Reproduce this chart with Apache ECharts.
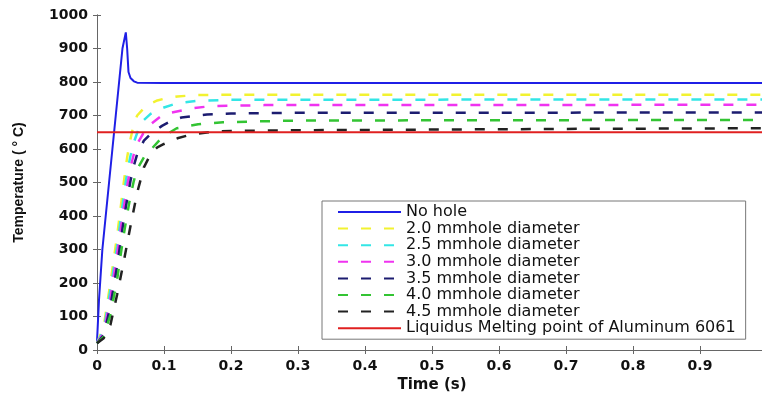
<!DOCTYPE html>
<html><head><meta charset="utf-8">
<script src="https://cdn.jsdelivr.net/npm/echarts@6/dist/echarts.min.js"></script>
<style>html,body{margin:0;padding:0;background:#fff}#c{width:762px;height:396px}</style>
</head><body><div id="c"></div>
<script>
// Series names
const seriesNames = ['No hole','2.0 mmhole diameter','2.5 mmhole diameter','3.0 mmhole diameter','3.5 mmhole diameter','4.0 mmhole diameter','4.5 mmhole diameter','Liquidus Melting point of Aluminum 6061'];
// No hole
const tNoHole = [0,0.003,0.008,0.018,0.023,0.028,0.033,0.038,0.043,0.045,0.047,0.05,0.055,0.06,0.1,0.5,1.0];
const vNoHole = [25,150,300,500,600,700,800,900,948,900,830,812,802,798,797,797,797];
// 2.0 mm
const t20 = [0,0.01,0.02,0.03,0.035,0.04,0.045,0.05,0.055,0.06,0.07,0.08,0.09,0.1,0.12,0.15,0.2,1.0];
const v20 = [20,70,200,340,420,500,575,630,675,700,722,736,745,750,757,761,762,762];
// 2.5 mm
const t25 = [0,0.01,0.02,0.03,0.035,0.04,0.045,0.05,0.055,0.06,0.067,0.08,0.09,0.1,0.12,0.15,0.2,1.0];
const v25 = [20,60,180,310,385,460,530,580,620,648,681,705,716,724,737,744,747,748];
// 3.0 mm
const t30 = [0,0.01,0.02,0.03,0.035,0.04,0.045,0.05,0.055,0.06,0.07,0.082,0.095,0.11,0.14,0.17,0.25,1.0];
const v30 = [20,52,155,285,355,425,490,545,585,615,650,677,697,708,721,728,731,732];
// 3.5 mm
const t35 = [0,0.01,0.02,0.03,0.035,0.04,0.045,0.05,0.055,0.06,0.07,0.08,0.097,0.11,0.126,0.164,0.2,0.3,1.0];
const v35 = [20,45,130,250,320,390,450,505,550,585,625,645,669,683,694,703,706,708,709];
// 4.0 mm
const t40 = [0,0.01,0.02,0.03,0.035,0.04,0.045,0.05,0.055,0.06,0.07,0.079,0.094,0.105,0.119,0.151,0.188,0.3,1.0];
const v40 = [20,40,105,210,280,345,405,460,505,540,575,595,628,645,662,674,680,685,687];
// 4.5 mm
const t45 = [0,0.01,0.02,0.03,0.04,0.05,0.055,0.06,0.07,0.08,0.09,0.1,0.12,0.14,0.17,0.2,0.3,0.5,0.7,1.0];
const v45 = [20,35,75,165,265,370,420,470,545,585,605,615,632,643,651,654,656,658,660,662];
// Liquidus line
const tLiq = [0,1.0];
const vLiq = [650,650];
// Axis ticks
const xTicks = [0,0.1,0.2,0.3,0.4,0.5,0.6,0.7,0.8,0.9,1];
const yTicks = [0,100,200,300,400,500,600,700,800,900,1000];

const colors = ['#1f1fe6','#f2f230','#33e6e6','#f033f0','#1c1c70','#33c433','#222222','#e02020'];
const times = [tNoHole,t20,t25,t30,t35,t40,t45,tLiq];
const vals = [vNoHole,v20,v25,v30,v35,v40,v45,vLiq];
const dashed = [false,true,true,true,true,true,true,false];

const zip = (a,b)=>a.map((x,i)=>[x,b[i]]);
const series = seriesNames.map((n,i)=>({
  name:n, type:'line', data:zip(times[i],vals[i]), symbol:'none', smooth:false,
  lineStyle:{color:colors[i], width: i===7?1.8:(dashed[i]?2.5:2), type: dashed[i]?[10,13]:'solid'},
  itemStyle:{color:colors[i]}, z: i===7?3:2, animation:false
}));
const axisLine = {lineStyle:{color:'#666',width:1}};
const chart = echarts.init(document.getElementById('c'));
chart.setOption({
  animation:false,
  backgroundColor:'#fff',
  grid:{left:97, top:15, width:670, height:335, outerBoundsMode:'none', containLabel:false},
  xAxis:[{
    type:'value', min:0, max:1, interval:0.1,
    axisLine:axisLine, axisTick:{inside:true,length:4,lineStyle:{color:'#666'}},
    splitLine:{show:false},
    axisLabel:{color:'#111', fontFamily:'DejaVu Sans', fontWeight:'bold', fontSize:14, margin:9, showMaxLabel:true,
      formatter:v=>{const k=xTicks.findIndex(x=>Math.abs(x-v)<1e-9); return k<0?'':String(xTicks[k]);}},
    name:'Time (s)', nameLocation:'middle', nameGap:26,
    nameTextStyle:{color:'#111', fontFamily:'DejaVu Sans', fontWeight:'bold', fontSize:15}
  },{
    type:'value', position:'top', min:0, max:1, interval:0.1,
    axisLine:axisLine, axisTick:{inside:true,length:4,lineStyle:{color:'#666'}},
    axisLabel:{show:false}, splitLine:{show:false}
  }],
  yAxis:[{
    type:'value', min:0, max:1000, interval:100,
    axisLine:{show:true,lineStyle:{color:'#666',width:1}}, axisTick:{show:true,inside:true,length:4,lineStyle:{color:'#666'}},
    splitLine:{show:false},
    axisLabel:{color:'#111', fontFamily:'DejaVu Sans', fontWeight:'bold', fontSize:14, margin:9,
      formatter:v=>{const k=yTicks.indexOf(v); return k<0?'':String(yTicks[k]);}},
    name:'Temperature ( \u00b0 C)', nameLocation:'middle', nameGap:71, nameRotate:90,
    nameTextStyle:{color:'#111', fontFamily:'Liberation Sans', fontWeight:'bold', fontSize:14}
  },{
    type:'value', position:'right', min:0, max:1000, interval:100,
    axisLine:{show:true,lineStyle:{color:'#666',width:1}}, axisTick:{show:true,inside:true,length:4,lineStyle:{color:'#666'}},
    axisLabel:{show:false}, splitLine:{show:false}
  }],
  legend:{
    orient:'vertical', left:322, top:201,
    padding:[3,10,3,15], itemWidth:63, itemHeight:14, itemGap:0.6, itemStyle:{opacity:0},
    backgroundColor:'#fff', borderColor:'#777', borderWidth:1,
    textStyle:{color:'#111', fontFamily:'DejaVu Sans', fontSize:16},
    data:seriesNames
  },
  series:series
});
</script></body></html>
